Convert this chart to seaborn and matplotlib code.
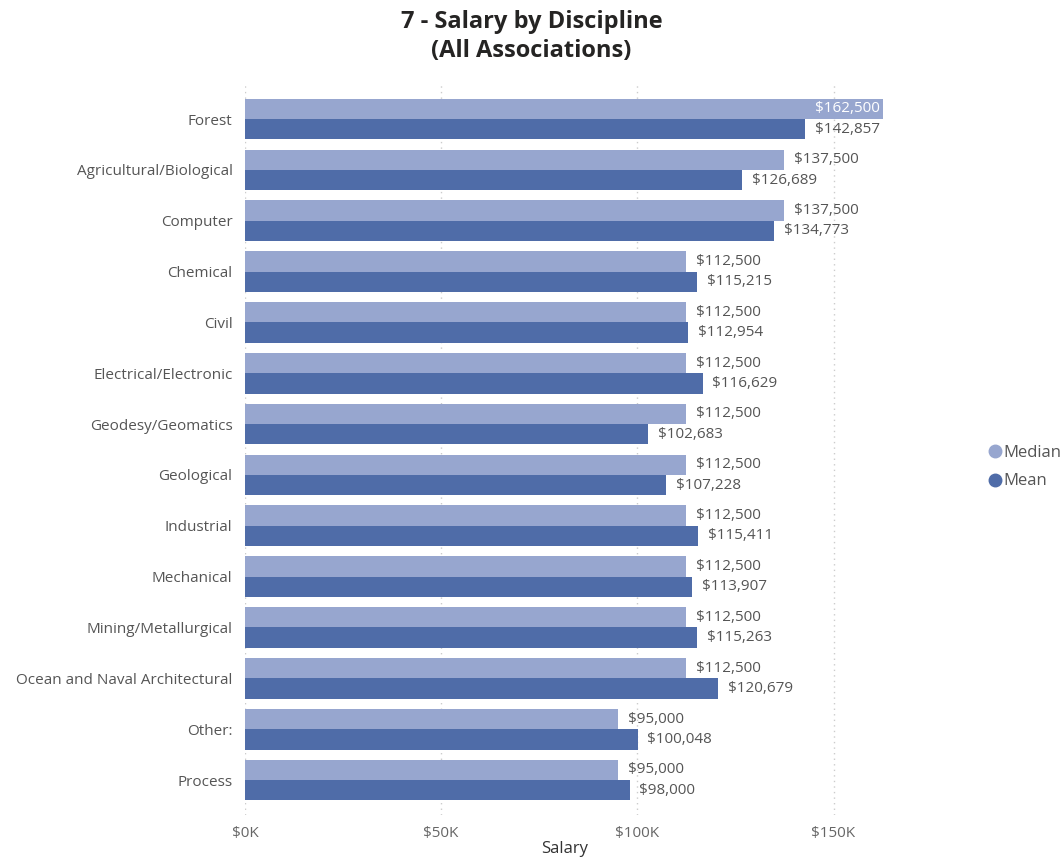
import matplotlib
matplotlib.use("Agg")
import matplotlib.pyplot as plt
from matplotlib.lines import Line2D
from matplotlib.ticker import FuncFormatter
import seaborn as sns
import pandas as pd

disciplines = ["Forest", "Agricultural/Biological", "Computer", "Chemical", "Civil",
               "Electrical/Electronic", "Geodesy/Geomatics", "Geological", "Industrial",
               "Mechanical", "Mining/Metallurgical", "Ocean and Naval Architectural",
               "Other:", "Process"]
median_vals = [162500, 137500, 137500, 112500, 112500, 112500, 112500, 112500, 112500,
               112500, 112500, 112500, 95000, 95000]
mean_vals = [142857, 126689, 134773, 115215, 112954, 116629, 102683, 107228, 115411,
             113907, 115263, 120679, 100048, 98000]
series = ["Median", "Mean"]
x_ticks = [0, 50000, 100000, 150000]

c_median = "#97A6CF"
c_mean = "#4F6CA8"

df = pd.DataFrame({
    "Discipline": disciplines * 2,
    "Measure": ["Median"] * len(disciplines) + ["Mean"] * len(disciplines),
    "Salary": median_vals + mean_vals,
})

sns.set_theme(style="white")
plt.rcParams["font.family"] = ["Open Sans", "DejaVu Sans"]

fig = plt.figure(figsize=(10.63, 8.65), dpi=100)
ax = fig.add_axes([0.2305, 0.0578, 0.6016, 0.8439])

sns.barplot(data=df, y="Discipline", x="Salary", hue="Measure", hue_order=series,
            order=disciplines, palette=[c_median, c_mean], orient="h", width=0.8,
            ax=ax, legend=False, saturation=1, linewidth=0, edgecolor="none")

ax.set_xlim(0, 163000)
ax.set_ylim(13.688, -0.669)
ax.set_xticks(x_ticks)
ax.xaxis.set_major_formatter(FuncFormatter(lambda v, p: f"${int(v/1000)}K"))
ax.tick_params(axis="x", length=0, labelsize=11, labelcolor="#666666", pad=8)
ax.tick_params(axis="y", length=0, labelsize=11, labelcolor="#555555", pad=9)
ax.grid(axis="x", linestyle=(0, (1, 3)), color="#CCCCCC", linewidth=1)
ax.set_axisbelow(True)
for s in ax.spines.values():
    s.set_visible(False)
ax.set_ylabel("")
ax.set_xlabel("Salary", fontsize=12, color="#333333", labelpad=0)

off = 0.2
for i, (m, mn) in enumerate(zip(median_vals, mean_vals)):
    if m > 155000:
        ax.text(m - 600, i - off, f"${m:,}", va="center", ha="right", fontsize=11, color="white")
    else:
        ax.text(m + 2500, i - off, f"${m:,}", va="center", ha="left", fontsize=11, color="#555555")
    ax.text(mn + 2500, i + off, f"${mn:,}", va="center", ha="left", fontsize=11, color="#555555")

fig.text(0.500, 0.988, "7 - Salary by Discipline\n(All Associations)", ha="center", va="top",
         fontsize=17, fontweight="bold", color="#252423", linespacing=1.25)

handles = [Line2D([0], [0], marker="o", linestyle="", markersize=9, markerfacecolor=c_median,
                  markeredgecolor=c_median, label="Median"),
           Line2D([0], [0], marker="o", linestyle="", markersize=9, markerfacecolor=c_mean,
                  markeredgecolor=c_mean, label="Mean")]
fig.legend(handles=handles, loc="center left", bbox_to_anchor=(0.922, 0.460), frameon=False,
           fontsize=12, labelcolor="#555555", handletextpad=0.0, labelspacing=0.75,
           handlelength=1.0, borderaxespad=0)

fig.savefig("out.png", dpi=100)
